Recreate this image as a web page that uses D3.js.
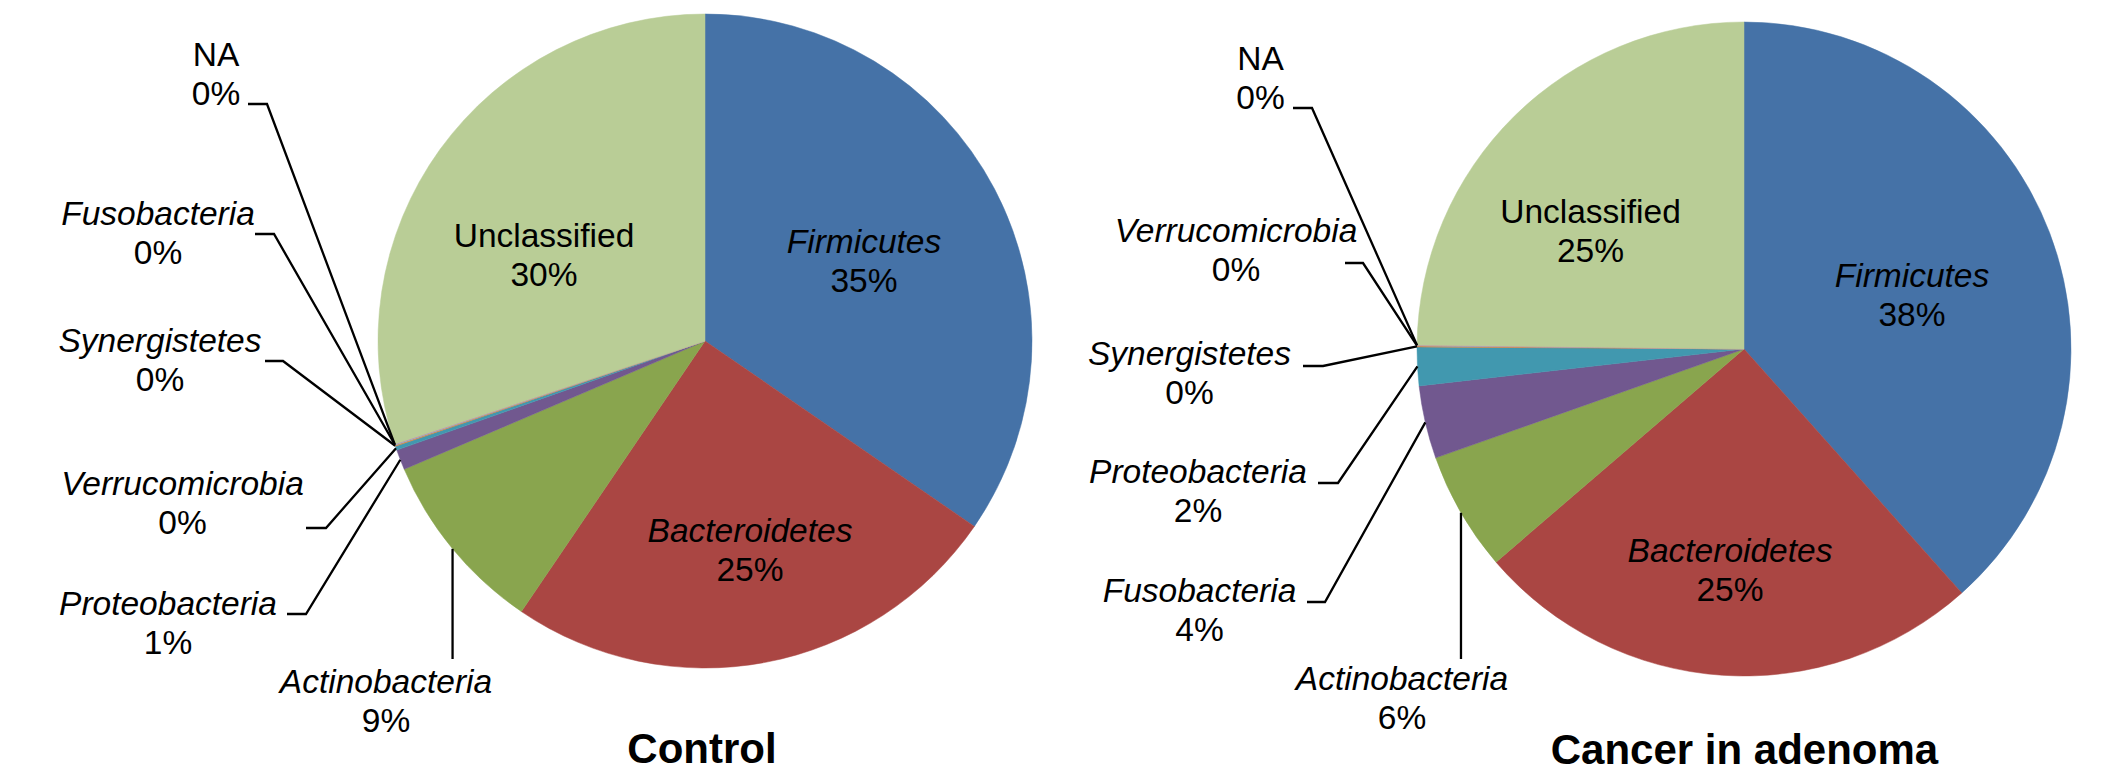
<!DOCTYPE html>
<html>
<head>
<meta charset="utf-8">
<script src="https://cdn.jsdelivr.net/npm/d3@7"></script>
<style>
  html, body { margin: 0; padding: 0; background: #ffffff; }
  svg { display: block; }
  text { font-family: "Liberation Sans", Arial, sans-serif; fill: #000; }
</style>
</head>
<body>
<svg id="chart" width="2126" height="779"></svg>
<script>
// ---------- DATA ----------
const titleControl = "Control";
const categoriesControl = ["Firmicutes", "Bacteroidetes", "Actinobacteria", "Proteobacteria",
  "Verrucomicrobia", "Synergistetes", "Fusobacteria", "NA", "Unclassified"];
const valuesControl = [34.6, 24.9, 9.1, 1.0, 0.2, 0.05, 0.05, 0.02, 30.1];

const titleCancer = "Cancer in adenoma";
const categoriesCancer = ["Firmicutes", "Bacteroidetes", "Actinobacteria", "Fusobacteria",
  "Proteobacteria", "Synergistetes", "Verrucomicrobia", "NA", "Unclassified"];
const valuesCancer = [38.4, 25.3, 5.9, 3.6, 1.9, 0.05, 0.03, 0.02, 24.8];

// ---------- STYLE ----------
const palette = ["#4572A7", "#AA4643", "#89A54E", "#71588F", "#4198AF",
  "#DB843D", "#93A9CF", "#D19392", "#B9CD96"];
const uprightNames = ["NA", "Unclassified"];
const fontSize = 33.5;
const lineGap = 39;

// ---------- LAYOUT (label anchors: x centre, y first baseline; knee = [x1, x2, y]) ----------
const layoutControl = {
  cx: 705, cy: 341, r: 327, titleX: 702, titleY: 763,
  labels: {
    "Firmicutes":      { x: 864,   y: 253 },
    "Bacteroidetes":   { x: 750,   y: 542 },
    "Unclassified":    { x: 544,   y: 247 },
    "Actinobacteria":  { x: 386,   y: 693, vEnd: 659 },
    "Proteobacteria":  { x: 168,   y: 615, knee: [287, 306, 614] },
    "Verrucomicrobia": { x: 182.5, y: 495, knee: [306, 326, 528] },
    "Synergistetes":   { x: 160,   y: 352, knee: [265, 283, 361] },
    "Fusobacteria":    { x: 158,   y: 225, knee: [255, 274, 234] },
    "NA":              { x: 216,   y: 66,  knee: [248, 267, 104] }
  }
};
const layoutCancer = {
  cx: 1744, cy: 349, r: 327, titleX: 1744.5, titleY: 764,
  labels: {
    "Firmicutes":      { x: 1912,   y: 287 },
    "Bacteroidetes":   { x: 1730,   y: 562 },
    "Unclassified":    { x: 1590.5, y: 223 },
    "Actinobacteria":  { x: 1402,   y: 690, vEnd: 659 },
    "Fusobacteria":    { x: 1199.5, y: 602, knee: [1307, 1325, 602] },
    "Proteobacteria":  { x: 1198,   y: 483, knee: [1318, 1338, 483] },
    "Synergistetes":   { x: 1189.5, y: 365, knee: [1303, 1323, 366] },
    "Verrucomicrobia": { x: 1236,   y: 242, knee: [1345, 1363, 263] },
    "NA":              { x: 1260.5, y: 70,  knee: [1293, 1312, 108] }
  }
};

// ---------- DRAW ----------
const svg = d3.select("#chart");
svg.append("rect").attr("width", 2126).attr("height", 779).attr("fill", "#fff");

function drawPie(categories, values, title, layout) {
  const data = categories.map((c, i) => ({ name: c, value: values[i], idx: i }));
  const total = d3.sum(values);
  const color = d3.scaleOrdinal().domain(categories).range(palette);
  const pie = d3.pie().sort(null).value(d => d.value).startAngle(0).endAngle(2 * Math.PI);
  const arc = d3.arc().innerRadius(0).outerRadius(layout.r);
  const arcs = pie(data);

  const g = svg.append("g");
  const pg = g.append("g").attr("transform", `translate(${layout.cx},${layout.cy})`);
  pg.selectAll("path").data(arcs).enter().append("path")
    .attr("d", arc)
    .attr("fill", d => color(d.data.name))
    .attr("stroke", d => color(d.data.name))
    .attr("stroke-width", 0.5);

  // leader lines
  arcs.forEach(a => {
    const L = layout.labels[a.data.name];
    if (!L || (!L.knee && L.vEnd === undefined)) return;
    const mid = (a.startAngle + a.endAngle) / 2;
    const ex = layout.cx + Math.sin(mid) * layout.r;
    const ey = layout.cy - Math.cos(mid) * layout.r;
    let pts;
    if (L.knee) {
      pts = [[L.knee[0], L.knee[2]], [L.knee[1], L.knee[2]], [ex, ey]];
    } else {
      pts = [[ex, ey], [ex, L.vEnd]];
    }
    g.append("path")
      .attr("d", d3.line()(pts))
      .attr("fill", "none")
      .attr("stroke", "#000")
      .attr("stroke-width", 2.3);
  });

  // labels
  arcs.forEach(a => {
    const L = layout.labels[a.data.name];
    if (!L) return;
    const pct = Math.round(a.data.value / total * 100) + "%";
    const t = g.append("text")
      .attr("text-anchor", "middle")
      .attr("font-size", fontSize);
    t.append("tspan")
      .attr("x", L.x).attr("y", L.y)
      .attr("font-style", uprightNames.includes(a.data.name) ? "normal" : "italic")
      .text(a.data.name);
    t.append("tspan")
      .attr("x", L.x).attr("y", L.y + lineGap)
      .attr("font-style", "normal")
      .text(pct);
  });

  g.append("text")
    .attr("x", layout.titleX).attr("y", layout.titleY)
    .attr("text-anchor", "middle")
    .attr("font-size", 42)
    .attr("font-weight", "bold")
    .text(title);
}

drawPie(categoriesControl, valuesControl, titleControl, layoutControl);
drawPie(categoriesCancer, valuesCancer, titleCancer, layoutCancer);
</script>
</body>
</html>
